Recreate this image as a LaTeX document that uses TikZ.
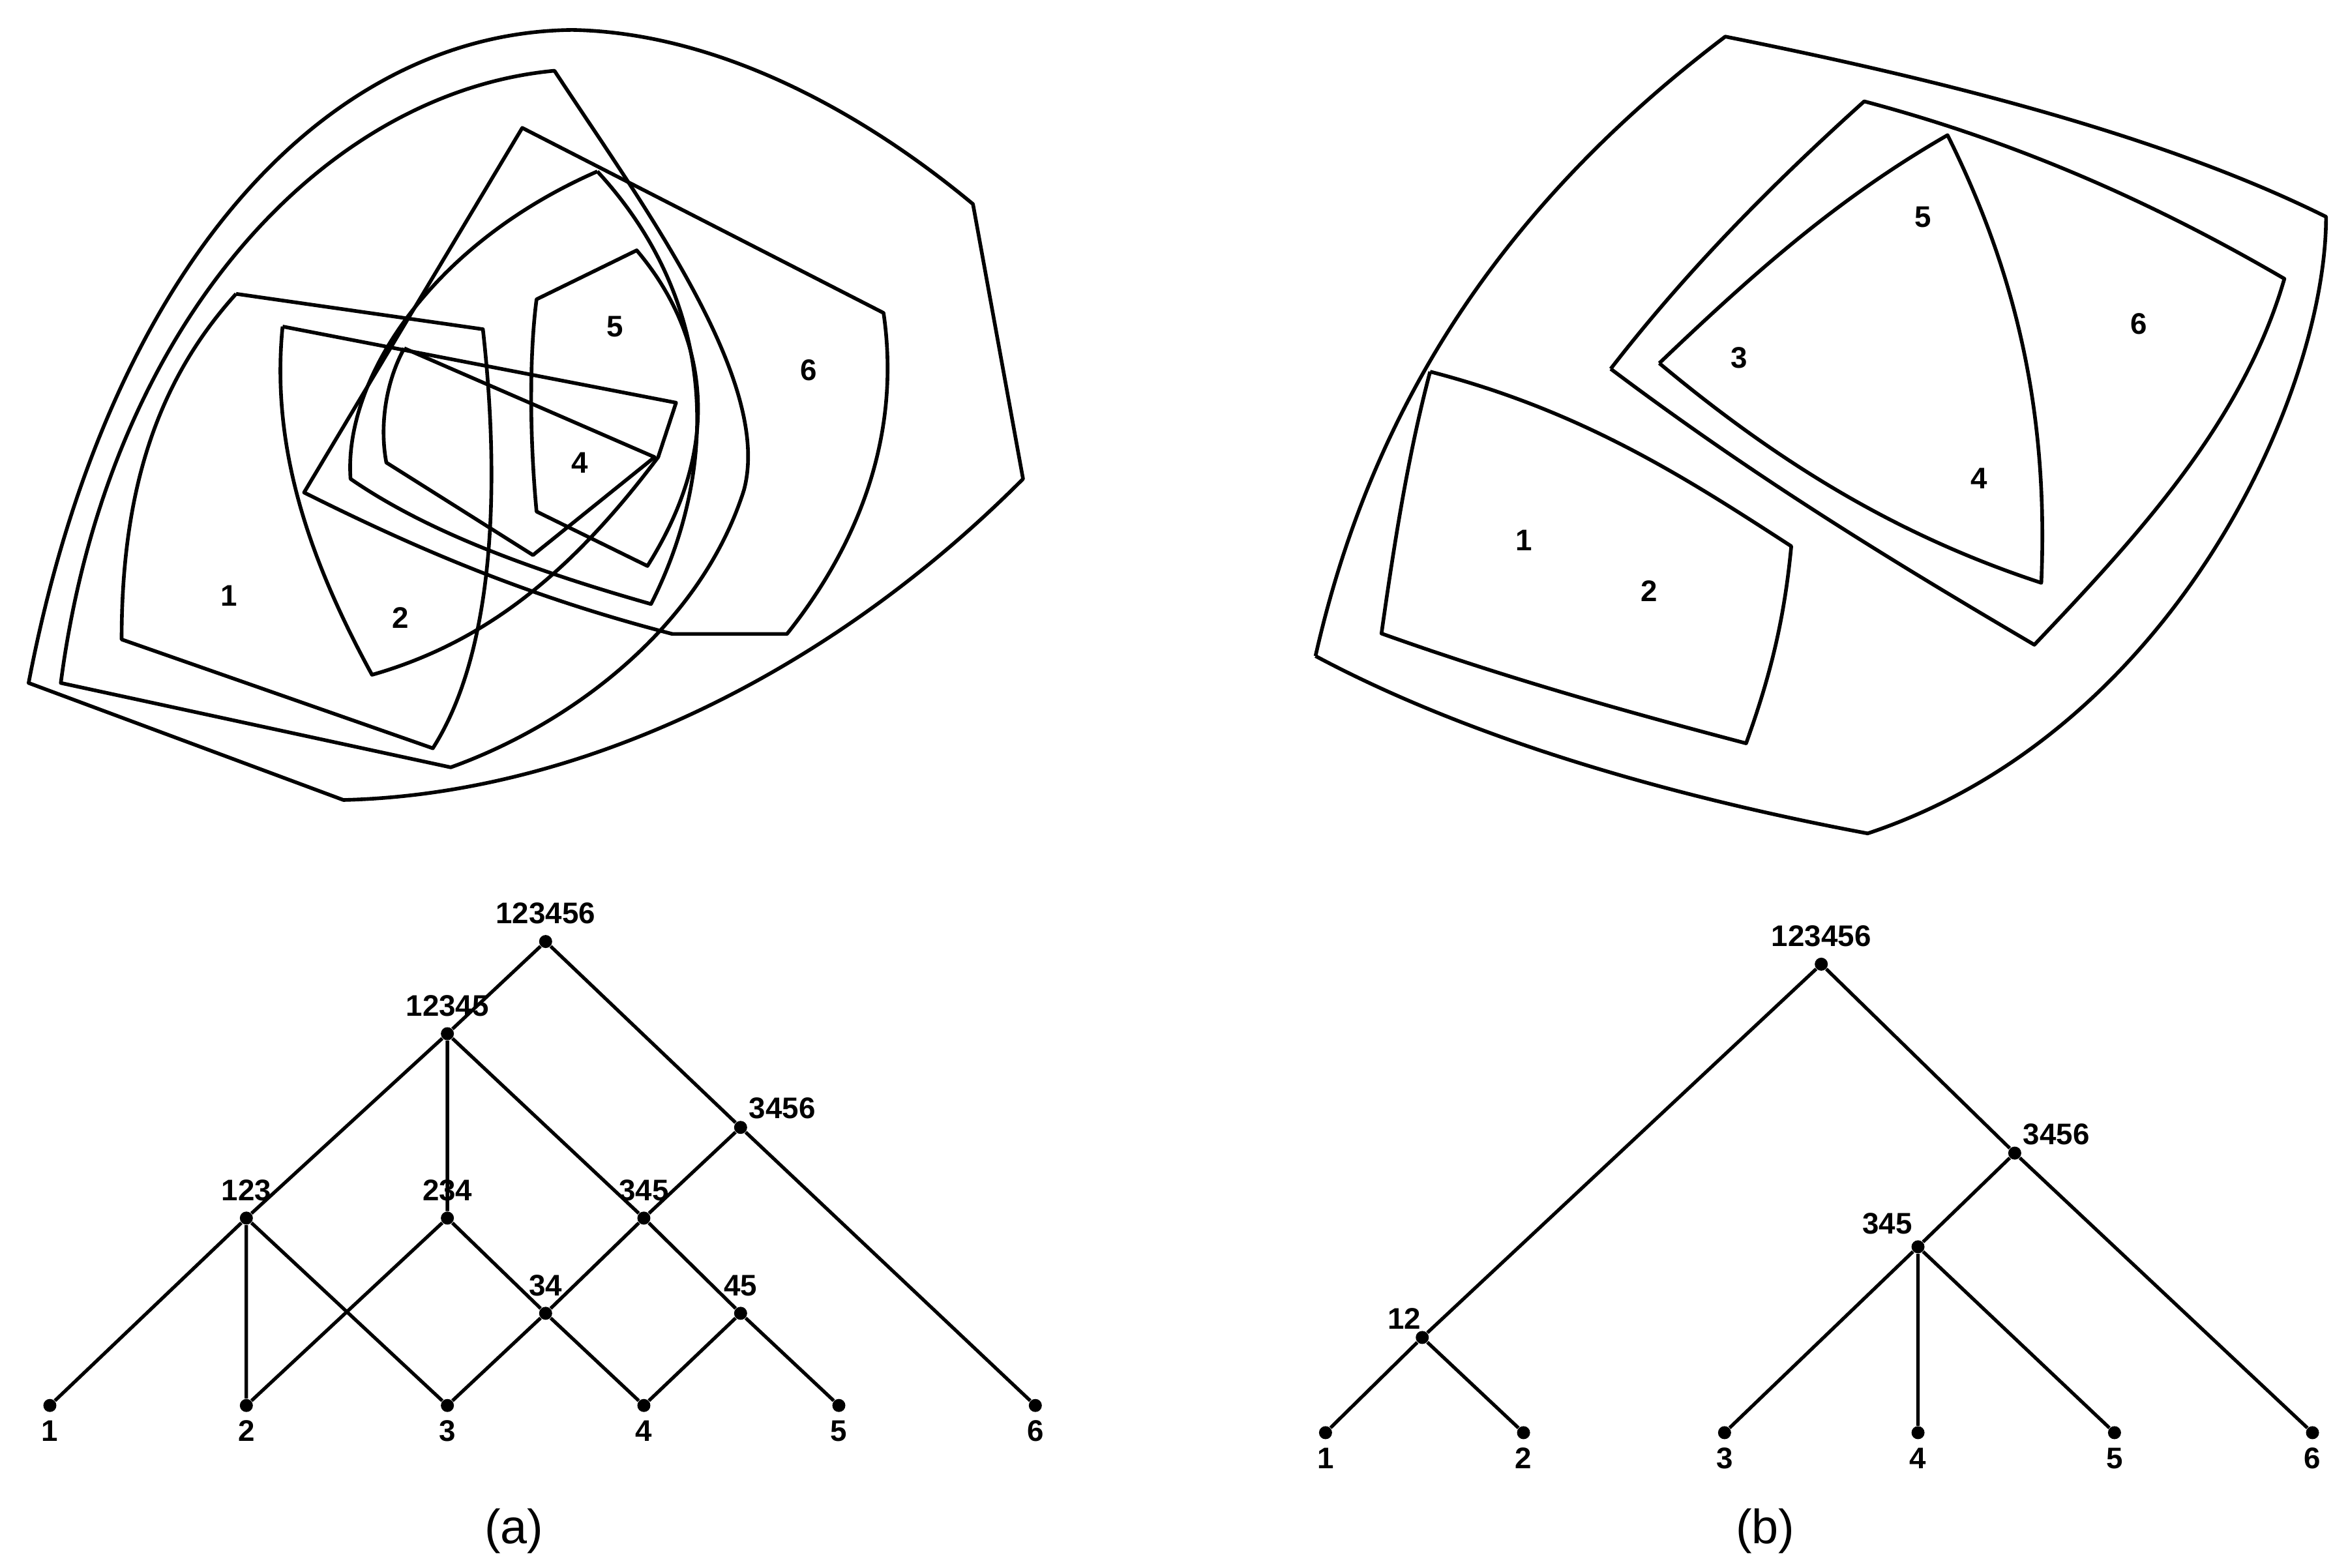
\documentclass[tikz,border=0pt]{standalone}
\usepackage{fontspec}
\setsansfont{Liberation Sans}
\begin{document}
\begin{tikzpicture}[x=0.02318cm,y=-0.02318cm,
  dot/.style={circle,fill=black,inner sep=0pt,minimum size=0.2cm},
  lab/.style={font=\sffamily\bfseries\fontsize{13}{13}\selectfont},
  ln/.style={line width=1.6pt,line join=round},
  edge/.style={line width=1.5pt}]
\useasboundingbox (0,0) rectangle (1553.5,1037.5);
% ---------- Venn (a)
\begin{scope}[x=0.01097cm,y=-0.00835cm]
\draw[ln] (40,1255) .. controls (150,500) and (450,60) .. (800,55) .. controls (1000,60) and (1200,200) .. (1360,375) -- (1430,880) .. controls (1150,1250) and (800,1460) .. (480,1470) -- cycle;
\draw[ln] (85,1255) .. controls (150,600) and (450,170) .. (775,130) .. controls (900,380) and (1080,700) .. (1040,900) .. controls (980,1150) and (800,1330) .. (630,1410) -- cycle;
\draw[ln] (330,540) -- (675,605) .. controls (700,900) and (690,1200) .. (605,1375) -- (170,1175) .. controls (170,900) and (220,700) .. (330,540);
\draw[ln] (395,600) -- (945,740) -- (920,840) .. controls (800,1050) and (680,1180) .. (520,1240) .. controls (420,1000) and (380,800) .. (395,600);
\draw[ln] (730,235) -- (1235,575) .. controls (1260,800) and (1200,1000) .. (1100,1165) -- (940,1165) .. controls (750,1100) and (600,1020) .. (425,905) -- cycle;
\draw[ln] (835,315) .. controls (1000,550) and (1010,850) .. (910,1110) .. controls (750,1050) and (600,980) .. (490,880) .. controls (480,700) and (600,450) .. (835,315);
\draw[ln] (890,460) .. controls (980,600) and (1020,800) .. (905,1040) -- (750,940) .. controls (740,800) and (740,650) .. (750,550) -- cycle;
\draw[ln] (565,640) -- (915,840) -- (745,1020) -- (540,850) .. controls (530,780) and (540,700) .. (565,640);
\node[lab] (va1) at (320,1095) {1};
\node[lab] (va2) at (560,1135) {2};
\node[lab] (va4) at (810,850) {4};
\node[lab] (va5) at (860,600) {5};
\node[lab] (va6) at (1130,680) {6};
\end{scope}
% ---------- Venn (b)
\begin{scope}[shift={(840.5,0)},x=0.01065cm,y=-0.00863cm]
\draw[ln] (65,1165) .. controls (150,700) and (350,350) .. (655,65) .. controls (1000,150) and (1300,250) .. (1520,385) .. controls (1520,700) and (1300,1300) .. (860,1480) .. controls (600,1420) and (300,1320) .. (65,1165);
\draw[ln] (230,660) .. controls (450,730) and (600,850) .. (750,970) .. controls (740,1100) and (720,1200) .. (685,1320) .. controls (500,1260) and (330,1200) .. (160,1125) .. controls (180,950) and (200,800) .. (230,660);
\draw[ln] (490,655) .. controls (600,480) and (720,330) .. (855,180) .. controls (1100,260) and (1300,380) .. (1460,495) .. controls (1400,750) and (1250,950) .. (1100,1145) .. controls (900,1000) and (700,850) .. (490,655);
\draw[ln] (560,645) .. controls (700,480) and (820,350) .. (975,240) .. controls (1080,500) and (1120,750) .. (1110,1035) .. controls (900,950) and (730,820) .. (560,645);
\node[lab] (vb1) at (365,960) {1};
\node[lab] (vb2) at (545,1050) {2};
\node[lab] (vb3) at (675,635) {3};
\node[lab] (vb4) at (1020,850) {4};
\node[lab] (vb5) at (940,385) {5};
\node[lab] (vb6) at (1250,575) {6};
\end{scope}
% ---------- Tree (a)
\foreach \n/\x/\y in {a123456/361/623, a12345/296/684, a3456/490/746, a123/163/806, a234/296/806, a345/426/806, a34/361/869, a45/490/869, a1/33/930, a2/163/930, a3/296/930, a4/426/930, a5/555/930, a6/685/930}
  \node[dot] (\n) at (\x,\y) {};
\draw[edge] (a123456)--(a12345) (a123456)--(a3456)--(a6) (a3456)--(a345)
 (a12345)--(a123) (a12345)--(a234) (a12345)--(a345)
 (a123)--(a1) (a123)--(a2) (a123)--(a3) (a234)--(a2) (a234)--(a34)
 (a345)--(a34) (a345)--(a45) (a34)--(a3) (a34)--(a4) (a45)--(a4) (a45)--(a5);
\foreach \n/\t in {a123456/123456, a12345/12345, a123/123, a234/234, a345/345, a34/34, a45/45}
  \node[lab,above=1pt] at (\n.north) {\t};
\node[lab,above right=-2pt] at (a3456.north east) {3456};
\foreach \n/\t in {a1/1,a2/2,a3/3,a4/4,a5/5,a6/6}
  \node[lab,below=0pt] at (\n.south) {\t};
% ---------- Tree (b)
\foreach \n/\x/\y in {b123456/1205/638, b3456/1333/763, b345/1269/825, b12/941/885, b1/877/948, b2/1008/948, b3/1141/948, b4/1269/948, b5/1399/948, b6/1530/948}
  \node[dot] (\n) at (\x,\y) {};
\draw[edge] (b123456)--(b12) (b123456)--(b3456)--(b6) (b3456)--(b345)
 (b345)--(b3) (b345)--(b4) (b345)--(b5) (b12)--(b1) (b12)--(b2);
\node[lab,above=1pt] at (b123456.north) {123456};
\node[lab,above right=-2pt] at (b3456.north east) {3456};
\node[lab,above left=-1pt] at (b345.north) {345};
\node[lab,above left=-3pt] at (b12.north) {12};
\foreach \n/\t in {b1/1,b2/2,b3/3,b4/4,b5/5,b6/6}
  \node[lab,below=0pt] at (\n.south) {\t};
% captions
\node[font=\sffamily\fontsize{21}{21}\selectfont] (capa) at (340,1013) {(a)};
\node[font=\sffamily\fontsize{21}{21}\selectfont] (capb) at (1168,1013) {(b)};
\end{tikzpicture}
\end{document}
